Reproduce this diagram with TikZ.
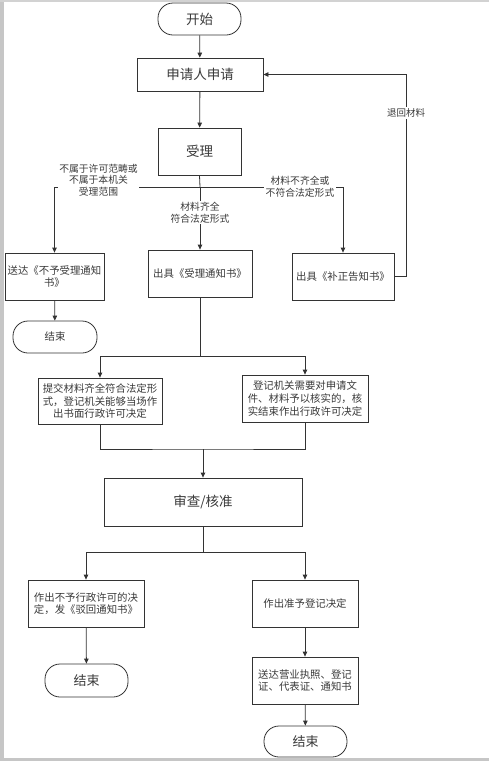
\documentclass[tikz,border=0pt]{standalone}
\usepackage{fontspec}
\setmainfont{Noto Sans CJK SC}
\usetikzlibrary{arrows.meta}
\definecolor{ln}{HTML}{333333}
\definecolor{tx}{HTML}{3A3A3A}
\tikzset{
  box/.style={draw=ln, line width=0.8pt, inner sep=0pt, align=center, text=tx},
  term/.style={box, rounded corners=15pt},
  big/.style={font=\fontsize{13.5}{16}\selectfont},
  small/.style={font=\fontsize{10.4}{12.6}\selectfont},
  lab/.style={fill=white, inner sep=1.5pt, align=center, text=tx, font=\fontsize{9.8}{11.6}\selectfont},
  conn/.style={draw=ln, line width=0.8pt},
  arr/.style={conn, -{Triangle[length=5pt,width=4.5pt]}}
}
\begin{document}
\begin{tikzpicture}[x=1pt,y=-1pt]
\useasboundingbox (0,0) rectangle (489,761);
\fill[white] (0,0) rectangle (489,761);
\fill[gray!45] (0,0) rectangle (3.5,761);
\fill[gray!35] (0,0) rectangle (489,2);
\fill[gray!45] (0,758) rectangle (489,761);

% nodes
\node[term, big, minimum width=83pt, minimum height=32pt] (start) at (199.5,19) {开始};
\node[box, big, minimum width=126pt, minimum height=33pt] (apply) at (200,74.5) {申请人申请};
\node[box, big, minimum width=83pt, minimum height=47pt] (accept) at (199.5,151.5) {受理};
\node[box, small, minimum width=99pt, minimum height=47pt] (rej) at (54.5,276.5) {送达《不予受理通知\\书》};
\node[box, small, minimum width=104pt, minimum height=47pt] (acc) at (200,273.5) {出具《受理通知书》};
\node[box, small, minimum width=102pt, minimum height=47pt] (corr) at (343,276.5) {出具《补正告知书》};
\node[term, small, minimum width=84pt, minimum height=32pt] (end1) at (55,337) {结束};
\node[box, small, minimum width=124pt, minimum height=46pt] (sub) at (100,401) {提交材料齐全符合法定形\\式，登记机关能够当场作\\出书面行政许可决定};
\node[box, small, minimum width=126pt, minimum height=47pt] (ver) at (305,398.5) {登记机关需要对申请文\\件、材料予以核实的，核\\实结束作出行政许可决定};
\node[box, big, minimum width=198pt, minimum height=48pt] (review) at (203,502) {审查/核准};
\node[box, small, minimum width=116pt, minimum height=47pt] (deny) at (86,603.5) {作出不予行政许可的决\\定，发《驳回通知书》};
\node[box, small, minimum width=106pt, minimum height=47pt] (grant) at (305,603.5) {作出准予登记决定};
\node[box, small, minimum width=106pt, minimum height=47pt] (deliver) at (305,680.5) {送达营业执照、登记\\证、代表证、通知书};
\node[term, font=\fontsize{13}{15}\selectfont, minimum width=83pt, minimum height=33pt] (end2) at (86.5,680.5) {结束};
\node[term, font=\fontsize{13}{15}\selectfont, minimum width=83pt, minimum height=31pt] (end3) at (305.5,741.5) {结束};

% junctions
\coordinate (b1) at (200,187);
\coordinate (b2) at (200,356);
\coordinate (j1) at (203,449);
\coordinate (b3) at (203,552);
\coordinate (lp) at (406,276.5);

% connectors
\draw[arr] (start) -- (apply);
\draw[arr] (apply) -- (accept);
\draw[conn] (accept.south) -- (b1);
\draw[arr] (b1) -| (rej.north);
\draw[arr] (b1) -| (corr.north);
\draw[arr] (b1) -- (acc.north);
\draw[arr] (corr.east) -- (lp) |- (apply.east);
\draw[arr] (rej) -- (end1);
\draw[conn] (acc.south) -- (b2);
\draw[arr] (b2) -| (sub.north);
\draw[arr] (b2) -| (ver.north);
\draw[conn] (sub.south) |- (j1) -| (ver.south);
\draw[arr] (j1) -- (review.north);
\draw[conn] (review.south) -- (b3);
\draw[arr] (b3) -| (deny.north);
\draw[arr] (b3) -| (grant.north);
\draw[arr] (deny) -- (end2);
\draw[arr] (grant) -- (deliver);
\draw[arr] (deliver) -- (end3);

% labels
\node[lab] (l1) at (98.5,180) {不属于许可范畴或\\不属于本机关\\受理范围};
\node[lab] (l2) at (200,212.5) {材料齐全\\符合法定形式};
\node[lab] (l3) at (300,186.5) {材料不齐全或\\不符合法定形式};
\node[lab, font=\fontsize{9.5}{11}\selectfont] (l4) at (406,113) {退回材料};
\end{tikzpicture}
\end{document}
